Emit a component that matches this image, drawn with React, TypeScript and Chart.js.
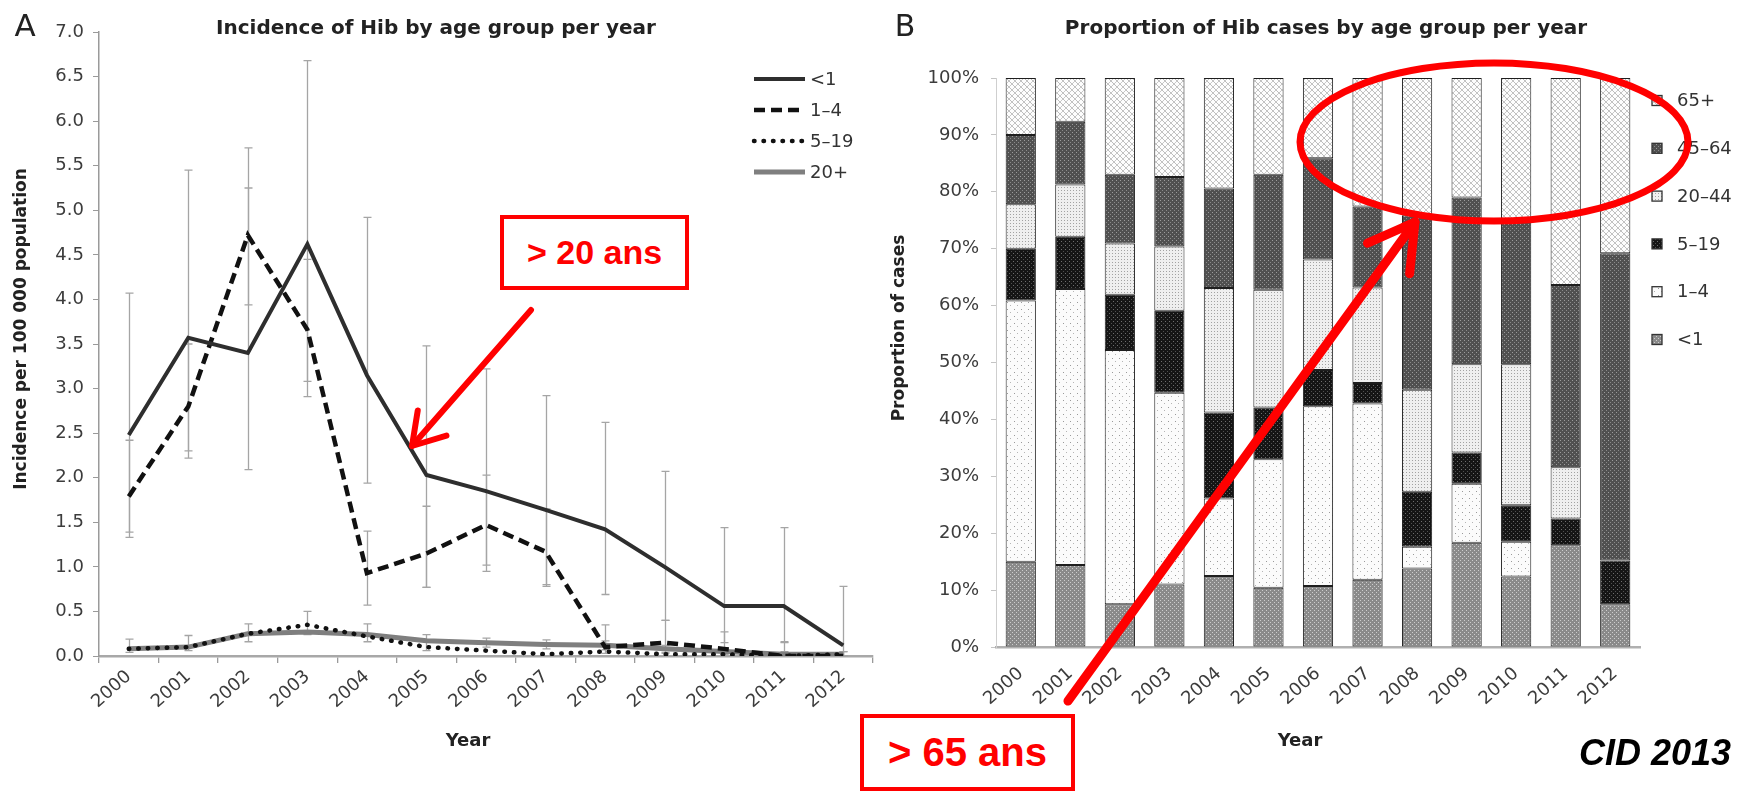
import React, { useEffect, useRef } from 'react';
import { Chart, registerables } from 'chart.js';

Chart.register(...registerables);

// ---------- Shared categories ----------
const years = ['2000', '2001', '2002', '2003', '2004', '2005', '2006', '2007', '2008', '2009', '2010', '2011', '2012'];

// ---------- Panel A: incidence per 100 000 population ----------
const seriesLabelsA = ['<1', '1–4', '5–19', '20+'];
const incUnder1 = [2.48, 3.57, 3.40, 4.62, 3.15, 2.03, 1.85, 1.64, 1.42, 1.00, 0.56, 0.56, 0.12];
const inc1to4 = [1.79, 2.80, 4.72, 3.66, 0.93, 1.15, 1.47, 1.17, 0.10, 0.15, 0.08, 0.00, 0.00];
const inc5to19 = [0.08, 0.10, 0.25, 0.35, 0.22, 0.10, 0.06, 0.02, 0.05, 0.02, 0.02, 0.00, 0.02];
const inc20plus = [0.08, 0.10, 0.25, 0.27, 0.24, 0.17, 0.15, 0.13, 0.12, 0.08, 0.05, 0.02, 0.02];

// 95% CI bounds
const ciUnder1Lo = [1.33, 2.30, 2.09, 3.08, 1.94, 0.77, 0.95, 0.78, 0.69, 0.40, 0.15, 0.16, 0.00];
const ciUnder1Hi = [4.07, 5.45, 5.25, 6.68, 4.92, 3.48, 3.22, 2.92, 2.62, 2.07, 1.44, 1.44, 0.78];
const ci1to4Lo = [1.39, 2.22, 3.94, 2.91, 0.57, 0.77, 1.02, 0.80, 0.03, 0.03, 0.01, 0.00, 0.00];
const ci1to4Hi = [2.42, 3.50, 5.70, 4.45, 1.40, 1.68, 2.03, 1.65, 0.35, 0.40, 0.27, 0.15, 0.05];
const ci20plusLo = [0.04, 0.06, 0.16, 0.24, 0.16, 0.06, 0.10, 0.08, 0.07, 0.04, 0.02, 0.00, 0.00];
const ci20plusHi = [0.19, 0.23, 0.36, 0.50, 0.36, 0.24, 0.20, 0.18, 0.17, 0.12, 0.09, 0.05, 0.05];

// ---------- Panel B: proportion of cases (%) ----------
const ageGroupsB = ['<1', '1–4', '5–19', '20–44', '45–64', '65+'];
const propUnder1 = [15.0, 14.4, 7.5, 11.0, 12.5, 10.4, 10.7, 11.8, 13.8, 18.3, 12.4, 17.9, 7.5];
const prop1to4 = [45.9, 48.5, 44.7, 33.7, 13.6, 22.6, 31.6, 31.0, 3.8, 10.4, 6.1, 0.0, 0.0];
const prop5to19 = [9.1, 9.2, 9.7, 14.4, 15.1, 9.1, 6.4, 3.6, 9.7, 5.5, 6.4, 4.7, 7.7];
const prop20to44 = [7.8, 9.2, 9.0, 11.3, 21.9, 20.7, 19.4, 16.8, 17.9, 15.5, 24.8, 9.0, 0.0];
const prop45to64 = [12.2, 11.0, 12.1, 12.2, 17.5, 20.2, 17.8, 14.2, 30.7, 29.3, 25.3, 32.0, 54.0];
const prop65plus = [10.0, 7.7, 17.0, 17.4, 19.4, 17.0, 14.1, 22.6, 24.1, 21.0, 25.0, 36.4, 30.8];

const FONT = '"DejaVu Sans", sans-serif';

function makePattern(kind: string): any {
  const c = document.createElement('canvas');
  const ctx = c.getContext('2d') as CanvasRenderingContext2D;
  const dot = (x: number, y: number, col: string) => { ctx.fillStyle = col; ctx.fillRect(x, y, 1, 1); };
  if (kind === '<1') {
    c.width = 4; c.height = 4;
    ctx.fillStyle = '#8a8a8a'; ctx.fillRect(0, 0, 4, 4);
    dot(0, 0, '#cdcdcd'); dot(2, 2, '#cdcdcd');
  } else if (kind === '1–4') {
    c.width = 7; c.height = 7;
    ctx.fillStyle = '#fbfbfb'; ctx.fillRect(0, 0, 7, 7);
    dot(1, 1, '#9a9a9a'); dot(4, 4, '#b5b5b5');
  } else if (kind === '5–19') {
    c.width = 4; c.height = 4;
    ctx.fillStyle = '#151515'; ctx.fillRect(0, 0, 4, 4);
    dot(1, 1, '#6e6e6e'); dot(3, 3, '#505050');
  } else if (kind === '20–44') {
    c.width = 3; c.height = 3;
    ctx.fillStyle = '#efefef'; ctx.fillRect(0, 0, 3, 3);
    dot(1, 1, '#a2a2a2');
  } else if (kind === '45–64') {
    c.width = 4; c.height = 4;
    ctx.fillStyle = '#505050'; ctx.fillRect(0, 0, 4, 4);
    dot(0, 0, '#9c9c9c'); dot(2, 2, '#8a8a8a');
  } else {
    c.width = 6; c.height = 6;
    ctx.fillStyle = '#fdfdfd'; ctx.fillRect(0, 0, 6, 6);
    for (let i = 0; i < 6; i++) { dot(i, i, '#bdbdbd'); dot(5 - i, i, '#c8c8c8'); }
  }
  return ctx.createPattern(c, 'repeat');
}

const errorBarsA = [
  { lo: ciUnder1Lo, hi: ciUnder1Hi },
  { lo: ci1to4Lo, hi: ci1to4Hi },
  { lo: ci20plusLo, hi: ci20plusHi },
];

const errorBarPlugin = {
  id: 'errorBars',
  beforeDatasetsDraw(chart: any) {
    const { ctx, scales } = chart;
    const x = scales.x, y = scales.y;
    ctx.save();
    ctx.strokeStyle = '#a5a5a5';
    ctx.lineWidth = 1.3;
    errorBarsA.forEach((e) => {
      e.lo.forEach((lo: number, i: number) => {
        const px = Math.round(x.getPixelForValue(i)) + 0.5;
        const y1 = y.getPixelForValue(lo);
        const y2 = y.getPixelForValue(e.hi[i]);
        ctx.beginPath();
        ctx.moveTo(px, y1); ctx.lineTo(px, y2);
        ctx.moveTo(px - 4, y1); ctx.lineTo(px + 4, y1);
        ctx.moveTo(px - 4, y2); ctx.lineTo(px + 4, y2);
        ctx.stroke();
      });
    });
    ctx.restore();
  },
};

const legendPluginA = {
  id: 'legendA',
  afterDraw(chart: any) {
    const { ctx } = chart;
    ctx.save();
    chart.data.datasets.forEach((ds: any, i: number) => {
      const yy = 79 + i * 31;
      ctx.beginPath();
      ctx.setLineDash(ds.borderDash || []);
      ctx.lineCap = ds.borderCapStyle || 'butt';
      ctx.strokeStyle = ds.borderColor;
      ctx.lineWidth = ds.borderWidth;
      ctx.moveTo(754, yy); ctx.lineTo(805, yy);
      ctx.stroke();
      ctx.setLineDash([]);
      ctx.fillStyle = '#333';
      ctx.font = `18px ${FONT}`;
      ctx.textBaseline = 'middle';
      ctx.fillText(ds.label, 810, yy + 1);
    });
    ctx.restore();
  },
};

const legendPluginB = {
  id: 'legendB',
  afterDraw(chart: any) {
    const { ctx } = chart;
    ctx.save();
    const n = chart.data.datasets.length;
    for (let k = 0; k < n; k++) {
      const ds = chart.data.datasets[n - 1 - k];
      const yy = 100.5 + k * 47.8;
      ctx.fillStyle = ds.backgroundColor;
      ctx.fillRect(772, yy - 5, 10, 10);
      ctx.strokeStyle = '#333';
      ctx.lineWidth = 1.3;
      ctx.strokeRect(772, yy - 5, 10, 10);
      ctx.fillStyle = '#333';
      ctx.font = `18px ${FONT}`;
      ctx.textBaseline = 'middle';
      ctx.fillText(ds.label, 797, yy + 1);
    }
    ctx.restore();
  },
};

function arrowHead(tip: number[], from: number[], len: number, deg: number) {
  const dx = from[0] - tip[0], dy = from[1] - tip[1];
  const d = Math.hypot(dx, dy);
  const ux = dx / d, uy = dy / d;
  const a = (deg * Math.PI) / 180;
  const r = (s: number) => [
    tip[0] + len * (ux * Math.cos(s * a) - uy * Math.sin(s * a)),
    tip[1] + len * (ux * Math.sin(s * a) + uy * Math.cos(s * a)),
  ];
  const p1 = r(1), p2 = r(-1);
  return `${p1[0]},${p1[1]} ${tip[0]},${tip[1]} ${p2[0]},${p2[1]}`;
}

export default function App() {
  const refA = useRef<HTMLCanvasElement>(null);
  const refB = useRef<HTMLCanvasElement>(null);

  useEffect(() => {
    Chart.defaults.font.family = FONT;
    Chart.defaults.color = '#3c3c3c';

    const chartA = new Chart(refA.current as HTMLCanvasElement, {
      type: 'line',
      data: {
        labels: years,
        datasets: [
          { label: seriesLabelsA[0], data: incUnder1, borderColor: '#2e2e2e', borderWidth: 4, pointRadius: 0, tension: 0 },
          { label: seriesLabelsA[1], data: inc1to4, borderColor: '#111', borderWidth: 4.5, borderDash: [11, 6], pointRadius: 0, tension: 0 },
          { label: seriesLabelsA[2], data: inc5to19, borderColor: '#111', borderWidth: 4.5, borderDash: [0.5, 9], borderCapStyle: 'round', pointRadius: 0, tension: 0 },
          { label: seriesLabelsA[3], data: inc20plus, borderColor: '#7f7f7f', borderWidth: 5, pointRadius: 0, tension: 0 },
        ],
      } as any,
      options: {
        animation: false,
        responsive: false,
        layout: { padding: { left: 0, top: 32, right: 7, bottom: 0 } },
        plugins: { legend: { display: false }, tooltip: { enabled: false }, title: { display: false } },
        scales: {
          x: {
            offset: true,
            grid: { offset: true, drawOnChartArea: false, tickLength: 7, color: '#9a9a9a', lineWidth: 1.3 },
            border: { color: '#a8a8a8', width: 2.5 },
            ticks: { autoSkip: false, minRotation: 42, maxRotation: 42, font: { size: 18 }, color: '#3c3c3c', padding: 3 },
            afterFit: (s: any) => { s.height = 137; },
          },
          y: {
            min: 0,
            max: 7,
            ticks: { stepSize: 0.5, callback: (v: any) => Number(v).toFixed(1), font: { size: 18 }, color: '#3c3c3c', padding: 9 },
            grid: { drawOnChartArea: false, tickLength: 6, color: '#9a9a9a' },
            border: { color: '#9a9a9a', width: 1.5 },
            afterFit: (s: any) => { s.width = 99; },
          },
        },
      } as any,
      plugins: [errorBarPlugin, legendPluginA],
    });

    const groupsData = [propUnder1, prop1to4, prop5to19, prop20to44, prop45to64, prop65plus];
    const chartB = new Chart(refB.current as HTMLCanvasElement, {
      type: 'bar',
      data: {
        labels: years,
        datasets: ageGroupsB.map((g, i) => ({
          label: g,
          data: groupsData[i],
          backgroundColor: makePattern(g),
          borderColor: '#1e1e1e',
          borderWidth: 1,
          borderSkipped: false,
          categoryPercentage: 1,
          barPercentage: 0.61,
        })),
      } as any,
      options: {
        animation: false,
        responsive: false,
        layout: { padding: { left: 0, top: 78, right: 112, bottom: 0 } },
        plugins: { legend: { display: false }, tooltip: { enabled: false }, title: { display: false } },
        scales: {
          x: {
            stacked: true,
            grid: { display: false },
            border: { color: '#b0b0b0', width: 2.5 },
            ticks: { autoSkip: false, minRotation: 42, maxRotation: 42, font: { size: 18 }, color: '#3c3c3c', padding: 8 },
            afterFit: (s: any) => { s.height = 146; },
          },
          y: {
            stacked: true,
            min: 0,
            max: 100,
            ticks: { stepSize: 10, callback: (v: any) => `${v}%`, font: { size: 18 }, color: '#3c3c3c', padding: 12 },
            grid: { drawOnChartArea: false, tickLength: 5, color: '#c4c4c4' },
            border: { color: '#cfcfcf', width: 1 },
            afterFit: (s: any) => { s.width = 116; },
          },
        },
      } as any,
      plugins: [legendPluginB],
    });

    return () => {
      chartA.destroy();
      chartB.destroy();
    };
  }, []);

  const centered = (x: number, y: number, extra: any = {}) => ({
    position: 'absolute' as const,
    left: x,
    top: y,
    transform: 'translate(-50%, -50%)',
    whiteSpace: 'nowrap' as const,
    lineHeight: 1,
    ...extra,
  });

  const arrowAFrom = [531, 310];
  const arrowATip = [412, 446];
  const arrowBFrom = [1068, 701];
  const arrowBTip = [1415, 222];

  return (
    <div style={{ position: 'fixed', left: 0, top: 0, width: 1752, height: 793, background: '#fff', overflow: 'hidden', fontFamily: FONT, color: '#222' }}>
      <canvas ref={refA} width={880} height={793} style={{ position: 'absolute', left: 0, top: 0, width: 880, height: 793 }} />
      <canvas ref={refB} width={872} height={793} style={{ position: 'absolute', left: 880, top: 0, width: 872, height: 793 }} />

      <div style={centered(25, 25, { fontSize: 31 })}>A</div>
      <div style={centered(905, 26, { fontSize: 30 })}>B</div>
      <div style={centered(436, 27, { fontSize: 20, fontWeight: 'bold' })}>Incidence of Hib by age group per year</div>
      <div style={centered(1326, 27, { fontSize: 20, fontWeight: 'bold' })}>Proportion of Hib cases by age group per year</div>
      <div style={centered(20, 329, { fontSize: 17, fontWeight: 'bold', transform: 'translate(-50%, -50%) rotate(-90deg)' })}>Incidence per 100 000 population</div>
      <div style={centered(898, 328, { fontSize: 17, fontWeight: 'bold', transform: 'translate(-50%, -50%) rotate(-90deg)' })}>Proportion of cases</div>
      <div style={centered(468, 740, { fontSize: 18, fontWeight: 'bold' })}>Year</div>
      <div style={centered(1300, 740, { fontSize: 18, fontWeight: 'bold' })}>Year</div>

      <div style={{ position: 'absolute', left: 500, top: 215, width: 189, height: 75, boxSizing: 'border-box', border: '4.5px solid #ff0000', background: '#fff', display: 'flex', alignItems: 'center', justifyContent: 'center', color: '#ff0000', fontFamily: '"Liberation Sans", Arial, sans-serif', fontWeight: 'bold', fontSize: 34, whiteSpace: 'nowrap' }}>&gt; 20 ans</div>
      <div style={{ position: 'absolute', left: 860, top: 714, width: 215, height: 77, boxSizing: 'border-box', border: '4.5px solid #ff0000', background: '#fff', display: 'flex', alignItems: 'center', justifyContent: 'center', color: '#ff0000', fontFamily: '"Liberation Sans", Arial, sans-serif', fontWeight: 'bold', fontSize: 40, whiteSpace: 'nowrap' }}>&gt; 65 ans</div>
      <div style={{ position: 'absolute', right: 1752 - 1731, top: 753, transform: 'translateY(-50%)', lineHeight: 1, fontFamily: '"Liberation Sans", Arial, sans-serif', fontWeight: 'bold', fontStyle: 'italic', fontSize: 36, color: '#000', whiteSpace: 'nowrap' }}>CID 2013</div>

      <svg width={1752} height={793} style={{ position: 'absolute', left: 0, top: 0, pointerEvents: 'none' }}>
        <line x1={arrowAFrom[0]} y1={arrowAFrom[1]} x2={arrowATip[0]} y2={arrowATip[1]} stroke="#ff0000" strokeWidth={6} strokeLinecap="round" />
        <polyline points={arrowHead(arrowATip, arrowAFrom, 36, 32)} fill="none" stroke="#ff0000" strokeWidth={6} strokeLinecap="round" strokeLinejoin="round" />
        <ellipse cx={1494} cy={142} rx={194} ry={79} fill="none" stroke="#ff0000" strokeWidth={7} />
        <line x1={arrowBFrom[0]} y1={arrowBFrom[1]} x2={arrowBTip[0]} y2={arrowBTip[1]} stroke="#ff0000" strokeWidth={9} strokeLinecap="round" />
        <polyline points={arrowHead(arrowBTip, arrowBFrom, 52, 30)} fill="none" stroke="#ff0000" strokeWidth={9} strokeLinecap="round" strokeLinejoin="round" />
      </svg>
    </div>
  );
}
